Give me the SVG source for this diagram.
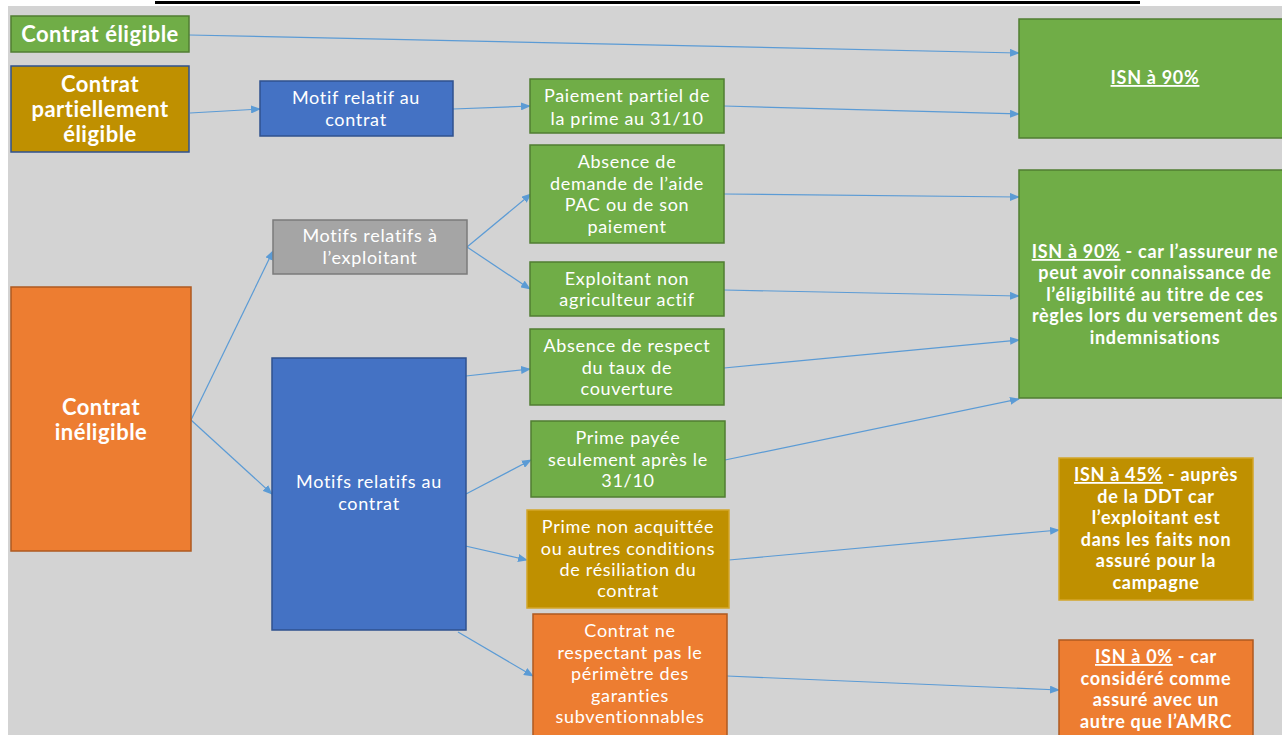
<svg xmlns="http://www.w3.org/2000/svg" width="1282" height="735" viewBox="0 0 1282 735">
<style>
.t{font-family:Lato,"Open Sans","Liberation Sans",sans-serif;font-size:18px;letter-spacing:0.7px;fill:#fff;text-anchor:middle}
.b{font-weight:bold}
.big{font-size:22px;letter-spacing:0.5px}
.green{fill:#70AD47;stroke:#507E32;stroke-width:1.5}
.blue{fill:#4472C4;stroke:#2F528F;stroke-width:1.5}
.gray{fill:#A5A5A5;stroke:#7B7B7B;stroke-width:1.5}
.gold{fill:#BF9000;stroke:#2F528F;stroke-width:1.5}
.gold2{fill:#BF9000;stroke:#D4A62A;stroke-width:1.5}
.orange{fill:#ED7D31;stroke:#AE5A21;stroke-width:1.5}
.c{fill:none;stroke:#5B9BD5;stroke-width:1.2;marker-end:url(#ah)}
.u{text-decoration:underline}
</style>
<defs>
<marker id="ah" markerWidth="10" markerHeight="8" refX="9" refY="4" orient="auto" markerUnits="userSpaceOnUse">
<path d="M0,0 L10,4 L0,8 Z" fill="#5B9BD5"/>
</marker>
</defs>
<rect x="0" y="0" width="1282" height="735" fill="#fff"/>
<rect x="8" y="6" width="1274" height="729" fill="#D3D3D3"/>
<line x1="155" y1="2.5" x2="1140" y2="2.5" stroke="#000" stroke-width="3"/>

<g id="connectors">
<line class="c" x1="189" y1="35" x2="1019" y2="53"/>
<line class="c" x1="190" y1="113" x2="260" y2="109"/>
<line class="c" x1="453" y1="109" x2="530" y2="106"/>
<line class="c" x1="724" y1="106" x2="1019" y2="114"/>
<line class="c" x1="191" y1="420" x2="273" y2="251"/>
<line class="c" x1="191" y1="420" x2="272" y2="494"/>
<line class="c" x1="467" y1="247" x2="531" y2="194"/>
<line class="c" x1="467" y1="247" x2="530" y2="289"/>
<line class="c" x1="724" y1="194" x2="1019" y2="197"/>
<line class="c" x1="724" y1="290" x2="1019" y2="296"/>
<line class="c" x1="466" y1="376" x2="530" y2="369"/>
<line class="c" x1="724" y1="368" x2="1019" y2="340"/>
<line class="c" x1="466" y1="494" x2="531" y2="460"/>
<line class="c" x1="725" y1="460" x2="1019" y2="399"/>
<line class="c" x1="461" y1="545" x2="527" y2="560"/>
<line class="c" x1="729" y1="560" x2="1059" y2="530"/>
<line class="c" x1="458" y1="632" x2="533" y2="676"/>
<line class="c" x1="727" y1="676" x2="1059" y2="690"/>
</g>

<g id="n_eligible">
<rect class="green" x="11" y="16" width="178" height="36"/>
<text class="t b big" x="100" y="42">Contrat éligible</text>
</g>
<g id="n_partiel">
<rect class="gold" x="11" y="66" width="178" height="86"/>
<text class="t b big" x="100" y="92">Contrat</text>
<text class="t b big" x="100" y="117">partiellement</text>
<text class="t b big" x="100" y="142">éligible</text>
</g>
<g id="n_ineligible">
<rect class="orange" x="11" y="287" width="180" height="264"/>
<text class="t b big" x="101" y="415">Contrat</text>
<text class="t b big" x="101" y="440">inéligible</text>
</g>
<g id="n_motif_contrat">
<rect class="blue" x="260" y="81" width="193" height="55"/>
<text class="t" x="356" y="104">Motif relatif au</text>
<text class="t" x="356" y="126">contrat</text>
</g>
<g id="n_motifs_exploitant">
<rect class="gray" x="273" y="220" width="194" height="54"/>
<text class="t" x="370" y="242">Motifs relatifs à</text>
<text class="t" x="370" y="264">l’exploitant</text>
</g>
<g id="n_motifs_contrat">
<rect class="blue" x="272" y="358" width="194" height="272"/>
<text class="t" x="369" y="488">Motifs relatifs au</text>
<text class="t" x="369" y="510">contrat</text>
</g>
<g id="n_paiement_partiel">
<rect class="green" x="530" y="79" width="194" height="54"/>
<text class="t" x="627" y="102">Paiement partiel de</text>
<text class="t" x="627" y="125">la prime au 31/10</text>
</g>
<g id="n_absence_pac">
<rect class="green" x="530" y="145" width="194" height="98"/>
<text class="t" x="627" y="168">Absence de</text>
<text class="t" x="627" y="190">demande de l’aide</text>
<text class="t" x="627" y="211">PAC ou de son</text>
<text class="t" x="627" y="233">paiement</text>
</g>
<g id="n_non_actif">
<rect class="green" x="530" y="262" width="194" height="54"/>
<text class="t" x="627" y="285">Exploitant non</text>
<text class="t" x="627" y="306">agriculteur actif</text>
</g>
<g id="n_taux">
<rect class="green" x="530" y="329" width="194" height="76"/>
<text class="t" x="627" y="352">Absence de respect</text>
<text class="t" x="627" y="374">du taux de</text>
<text class="t" x="627" y="395">couverture</text>
</g>
<g id="n_prime_payee">
<rect class="green" x="531" y="421" width="194" height="76"/>
<text class="t" x="628" y="444">Prime payée</text>
<text class="t" x="628" y="466">seulement après le</text>
<text class="t" x="628" y="487">31/10</text>
</g>
<g id="n_prime_non">
<rect class="gold2" x="527" y="510" width="202" height="98"/>
<text class="t" x="628" y="533">Prime non acquittée</text>
<text class="t" x="628" y="555">ou autres conditions</text>
<text class="t" x="628" y="576">de résiliation du</text>
<text class="t" x="628" y="597">contrat</text>
</g>
<g id="n_perimetre">
<rect class="orange" x="533" y="614" width="194" height="125"/>
<text class="t" x="630" y="637">Contrat ne</text>
<text class="t" x="630" y="659">respectant pas le</text>
<text class="t" x="630" y="680">périmètre des</text>
<text class="t" x="630" y="702">garanties</text>
<text class="t" x="630" y="723">subventionnables</text>
</g>
<g id="n_isn90a">
<rect class="green" x="1019" y="19" width="270" height="119"/>
<text class="t b" x="1155" y="84"><tspan class="u">ISN à 90%</tspan></text>
</g>
<g id="n_isn90b">
<rect class="green" x="1019" y="170" width="270" height="228"/>
<text class="t b" x="1155" y="258"><tspan class="u">ISN à 90%</tspan> - car l’assureur ne</text>
<text class="t b" x="1155" y="279">peut avoir connaissance de</text>
<text class="t b" x="1155" y="301">l’éligibilité au titre de ces</text>
<text class="t b" x="1155" y="322">règles lors du versement des</text>
<text class="t b" x="1155" y="344">indemnisations</text>
</g>
<g id="n_isn45">
<rect class="gold2" x="1059" y="458" width="194" height="142"/>
<text class="t b" x="1156" y="481"><tspan class="u">ISN à 45%</tspan> - auprès</text>
<text class="t b" x="1156" y="503">de la DDT car</text>
<text class="t b" x="1156" y="524">l’exploitant est</text>
<text class="t b" x="1156" y="546">dans les faits non</text>
<text class="t b" x="1156" y="567">assuré pour la</text>
<text class="t b" x="1156" y="589">campagne</text>
</g>
<g id="n_isn0">
<rect class="orange" x="1059" y="640" width="194" height="100"/>
<text class="t b" x="1156" y="663"><tspan class="u">ISN à 0%</tspan> - car</text>
<text class="t b" x="1156" y="685">considéré comme</text>
<text class="t b" x="1156" y="706">assuré avec un</text>
<text class="t b" x="1156" y="728">autre que l’AMRC</text>
</g>
</svg>
